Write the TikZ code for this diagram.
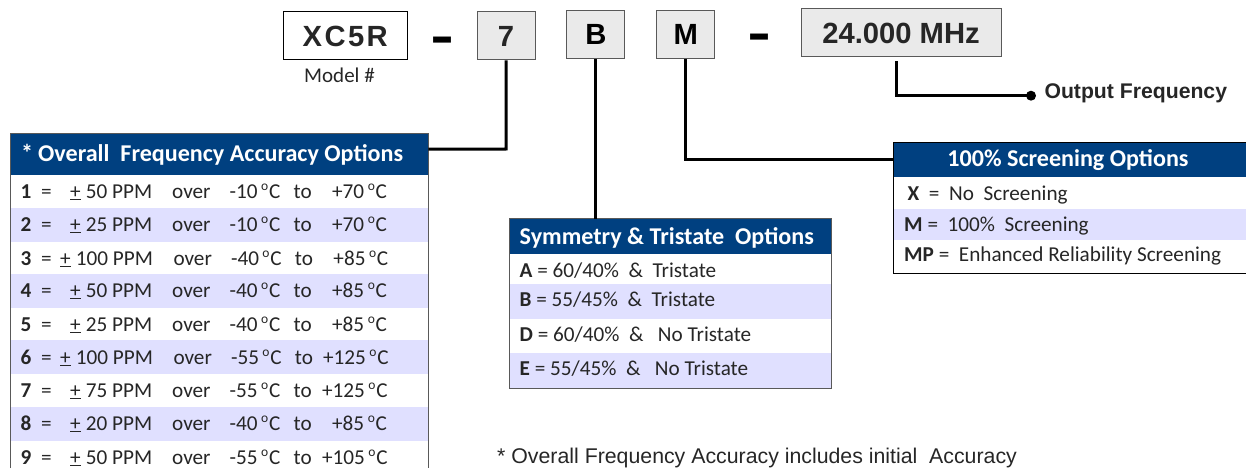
\documentclass[tikz,border=0pt]{standalone}
\usepackage{fontspec}
\setmainfont{Carlito}
\newfontfamily\arialf{Liberation Sans}
\definecolor{hdblue}{HTML}{004080}
\definecolor{band}{HTML}{E0E0FF}
\definecolor{boxgray}{HTML}{EAEAEA}
\definecolor{edge}{HTML}{595959}
\definecolor{ink}{HTML}{262626}
\newcommand\fsz[1]{\fontsize{#1}{#1}\selectfont}
\newcommand\cl[2]{\rlap{\hskip#1 #2}}
\newcommand\degC{\raisebox{8pt}{\fsz{13.5}o}\kern0.8ptC}
\newcommand\plusmark{\underline{\smash{\hbox{+}}}}
% name, y, number, plus x, ppm, dx, t1, t2 x, t2
\newcommand\accrow[9]{%
  \node[rowtext] (#1) at (20.5,#2) {\hbox to 380pt{%
    \cl{0pt}{\textbf{#3}}\cl{20.5pt}{=}\cl{#4pt}{\plusmark}\cl{\dimexpr#4pt+15.7pt\relax}{#5}%
    \cl{\dimexpr151.5pt+#6pt\relax}{over}\cl{\dimexpr209pt+#6pt\relax}{#7\kern3.5pt\degC}%
    \cl{\dimexpr273pt+#6pt\relax}{to}\cl{#8pt}{#9\kern3.5pt\degC}\hfil}};}
\tikzset{
  rowtext/.style={anchor=base west,inner sep=0pt,font=\fsz{21.2},text=ink},
  headtext/.style={inner sep=0pt,font=\bfseries\fsz{24.1},text=white},
  headbar/.style={fill=hdblue},
  bandfill/.style={fill=band},
  frame/.style={draw=edge,line width=0.9pt},
  codebox/.style={draw=edge,line width=1pt,fill=boxgray,inner sep=0pt,text=ink,font=\arialf\bfseries\fsz{29.2}},
  link/.style={draw=black,line width=3pt},
  dashmark/.style={inner sep=0pt,font=\arialf\bfseries\fsz{36},text=black},
  note/.style={anchor=base west,inner sep=0pt,text=ink},
}
\begin{document}
\begin{tikzpicture}[x=1pt,y=-1pt]
\useasboundingbox (0,0) rectangle (1246,468);
% code boxes
\node[codebox,draw=black,fill=white,minimum width=124pt,minimum height=48pt] (model) at (345.2,36) {X\kern2.4ptC\kern2.4pt5\kern2.4ptR};
\node[codebox,minimum width=58pt,minimum height=48pt] (acc) at (506,36) {7};
\node[codebox,text=black,minimum width=58pt,minimum height=48pt] (sym) at (595.8,34.4) {B};
\node[codebox,text=black,minimum width=58pt,minimum height=48pt] (scr) at (685.7,34.2) {M};
\node[codebox,minimum width=200pt,minimum height=48pt] (freq) at (901,33) {24.000 MHz};
\node[dashmark] (d1) at (443,47) {\scalebox{1}[1.7]{–}};
\node[dashmark] (d2) at (759,44) {\scalebox{1}[1.7]{–}};
\node[note,font=\fsz{21}] (modelnote) at (304,83) {Model \#};
% table 1
\fill[bandfill] (10.5,208) rectangle (428,242);
\fill[bandfill] (10.5,274) rectangle (428,308);
\fill[bandfill] (10.5,340) rectangle (428,374);
\fill[bandfill] (10.5,407) rectangle (428,441);
\node[headbar,minimum width=417.5pt,minimum height=42pt,inner sep=0pt,anchor=north west] (acchead) at (10.5,133) {};
\node[headtext,anchor=base west] (acctitle) at (21,161) {*\kern5pt Overall\ \ Frequency Accuracy Options};
\draw[frame] (10.5,468) -- (10.5,133) -- (428,133) -- (428,468);
\accrow{a1}{198}{1}{49.5}{50 PPM}{0}{-10}{311.5}{+70}
\accrow{a2}{231}{2}{49.5}{25 PPM}{0}{-10}{311.5}{+70}
\accrow{a3}{265}{3}{39.5}{100 PPM}{1.3}{-40}{312.8}{+85}
\accrow{a4}{297}{4}{49.5}{50 PPM}{0}{-40}{311.5}{+85}
\accrow{a5}{331}{5}{49.5}{25 PPM}{0}{-40}{311.5}{+85}
\accrow{a6}{364}{6}{39.5}{100 PPM}{1.3}{-55}{302.5}{+125}
\accrow{a7}{397}{7}{49.5}{75 PPM}{0}{-55}{301.5}{+125}
\accrow{a8}{430}{8}{49.5}{20 PPM}{0}{-40}{311.5}{+85}
\accrow{a9}{464}{9}{49.5}{50 PPM}{0}{-55}{301.5}{+105}
% table 2
\fill[bandfill] (509.5,284) rectangle (831.5,318.7);
\fill[bandfill] (509.5,353) rectangle (831.5,388);
\node[headbar,minimum width=322pt,minimum height=35.2pt,inner sep=0pt,anchor=north west] (symhead) at (509.5,218.5) {};
\node[headtext,anchor=base west] (symtitle) at (519.5,244.5) {Symmetry \& Tristate\ \ Options};
\draw[frame] (509.5,218.5) rectangle (831.5,388);
\node[rowtext] (s1) at (519.5,277) {\textbf{A} = 60/40\%\ \ \&\ \ Tristate};
\node[rowtext] (s2) at (519.5,306) {\textbf{B} = 55/45\%\ \ \&\ \ Tristate};
\node[rowtext] (s3) at (519.5,341) {\textbf{D} = 60/40\%\ \ \&\ \ \ No Tristate};
\node[rowtext] (s4) at (519.5,375) {\textbf{E} = 55/45\%\ \ \&\ \ \ No Tristate};
% table 3
\fill[bandfill] (893,209) rectangle (1246,239.7);
\node[headbar,minimum width=353pt,minimum height=34.7pt,inner sep=0pt,anchor=north west] (scrhead) at (893,142) {};
\node[headtext] (scrtitle) at (1068,160.5) {100\% Screening Options};
\draw[frame,draw=black] (1246,142) -- (893,142) -- (893,273) -- (1246,273);
\node[rowtext] (x1) at (907.5,200) {\textbf{X}\ \ =\ \ No\ \ Screening};
\node[rowtext] (x2) at (904,231) {\textbf{M} =\ \ 100\%\ \ Screening};
\node[rowtext] (x3) at (904,261.7) {\textbf{MP} =\ \ Enhanced Reliability Screening};
% connectors
\draw[link] (acc.south) -- (acc.south |- 0,149) -- ([yshift=5pt]acchead.east);
\draw[link] (sym.south) -- (sym.south |- symhead.north);
\draw[link] (scr.south) |- (scrhead.west);
\node[circle,fill=black,inner sep=0pt,minimum size=10pt] (dot) at (1031,95.7) {};
\draw[link] ([xshift=-4.7pt,yshift=-3.7pt]freq.south) |- (dot.center);
% labels
\node[note,font=\arialf\bfseries\fsz{21.2}] (outlabel) at (1044.3,98.3) {Output Frequency};
\node[note,font=\arialf\fsz{21.3}] (footnote) at (497,463) {* Overall Frequency Accuracy includes initial\ \ Accuracy};
\end{tikzpicture}
\end{document}
